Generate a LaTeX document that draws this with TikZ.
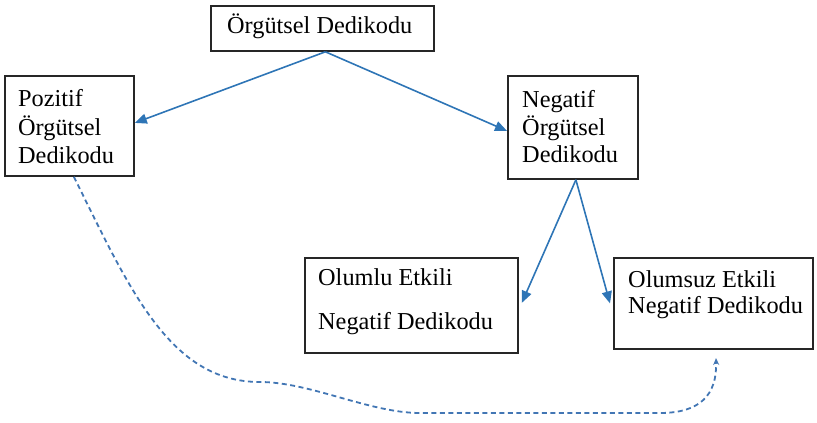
\documentclass[tikz,border=0pt]{standalone}
\usepackage{fontspec}
\setmainfont{Liberation Serif}
\usetikzlibrary{arrows.meta}
\definecolor{arrowblue}{RGB}{46,117,182}
\definecolor{dashblue}{RGB}{66,118,180}
\definecolor{boxline}{RGB}{38,38,38}
\begin{document}
\begin{tikzpicture}[x=1pt,y=-1pt,
  box/.style={draw=boxline, line width=1.8pt, fill=white, rectangle, inner sep=0pt, anchor=north west},
  ln/.style={anchor=base west, inner sep=0pt, font=\fontsize{24.3}{29}\selectfont},
  link/.style={draw=arrowblue, line width=1.6pt, -{Triangle[length=12pt,width=10pt]}},
  back/.style={draw=dashblue, line width=1.8pt, dash pattern=on 5pt off 3.5pt,
    -{Stealth[length=7pt,width=6pt,open]}}]
\useasboundingbox (0,0) rectangle (817,423);

% boxes
\node[box, minimum width=223pt, minimum height=45pt]  (top) at (210,5)   {};
\node[box, minimum width=129pt, minimum height=100pt] (poz) at (4,75)    {};
\node[box, minimum width=130pt, minimum height=103pt] (neg) at (507,75)  {};
\node[box, minimum width=213pt, minimum height=95pt]  (olm) at (304,257) {};
\node[box, minimum width=199pt, minimum height=91pt]  (ols) at (613,257) {};

% box texts
\node[ln] (topA) at (227,33) {Örgütsel Dedikodu};

\node[ln] (pozA) at (18,106) {Pozitif};
\node[ln] (pozB) at (18,135) {Örgütsel};
\node[ln] (pozC) at (18,163) {Dedikodu};

\node[ln] (negA) at (522,107) {Negatif};
\node[ln] (negB) at (522,135) {Örgütsel};
\node[ln] (negC) at (522,162) {Dedikodu};

\node[ln] (olmA) at (318,285) {Olumlu Etkili};
\node[ln] (olmB) at (318,329) {Negatif Dedikodu};

\node[ln] (olsA) at (628,287) {Olumsuz Etkili};
\node[ln] (olsB) at (628,313) {Negatif Dedikodu};

% solid connectors
\draw[link] ([xshift=3pt]top.south) -- ([yshift=3pt]poz.east);
\draw[link] ([xshift=3pt]top.south) -- ([yshift=-3.5pt]neg.west);
\draw[link] ([xshift=3pt]neg.south) -- ([xshift=3pt,yshift=2.5pt]olm.east);
\draw[link] ([xshift=3pt]neg.south) -- ([xshift=-3pt]ols.west);

% dashed return path
\coordinate (dashend) at (716,358);
\draw[back] ([xshift=4.5pt]poz.south)
  .. controls (130,290) and (170,382) .. (260,382)
  .. controls (310,382) and (370,413) .. (420,413)
  -- (660,413)
  .. controls (700,413) and (717,395) .. (dashend);
\end{tikzpicture}
\end{document}
